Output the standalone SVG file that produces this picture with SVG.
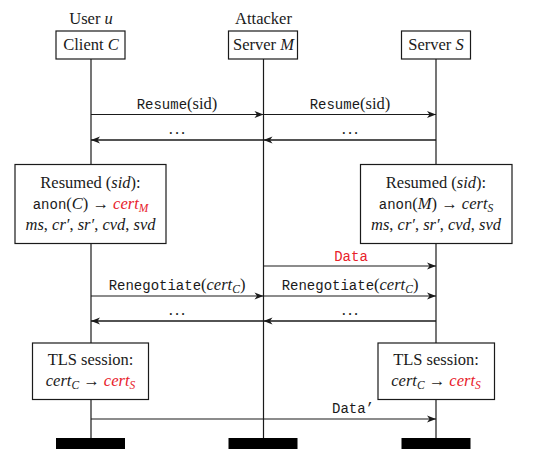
<svg xmlns="http://www.w3.org/2000/svg" width="535" height="472" viewBox="0 0 535 472">
<style>
  .t { font-family: "Liberation Serif", "Times New Roman", serif; font-size: 16.5px; fill: #1a1a1a; }
  .tt { font-family: "Liberation Mono", "Courier New", monospace; font-size: 14px; }
  .it { font-style: italic; }
  .sub { font-size: 11.5px; font-style: italic; }
  .red { fill: #e8212b; }
  .box { fill: #ffffff; stroke: #1a1a1a; stroke-width: 1.2; }
  .life { stroke: #1a1a1a; stroke-width: 1.2; fill: none; }
  .msg { stroke: #1a1a1a; stroke-width: 1.2; fill: none; marker-end: url(#ah); }
  .ret { stroke: #1a1a1a; stroke-width: 1.7; fill: none; marker-end: url(#ah); }
  .bar { fill: #000000; }
  .dots { letter-spacing: 2px; }
</style>
<defs>
  <marker id="ah" viewBox="-10 -5 11 10" refX="0" refY="0" markerWidth="11" markerHeight="10" markerUnits="userSpaceOnUse" orient="auto">
    <path d="M0,0 L-9,-3.6 L-6.5,0 L-9,3.6 Z" fill="#1a1a1a"/>
  </marker>
</defs>
<rect width="535" height="472" fill="#ffffff"/>

<g id="lifelines">
  <line class="life" x1="91" y1="59" x2="91" y2="439"/>
  <line class="life" x1="263.5" y1="59" x2="263.5" y2="439"/>
  <line class="life" x1="436" y1="59" x2="436" y2="439"/>
</g>

<g id="client">
  <text class="t" x="91" y="24" text-anchor="middle">User <tspan class="it">u</tspan></text>
  <rect class="box" x="56" y="31" width="69" height="28"/>
  <text class="t" x="91" y="50" text-anchor="middle">Client <tspan class="it">C</tspan></text>
  <rect class="bar" x="56" y="438" width="69" height="11"/>
</g>

<g id="attacker">
  <text class="t" x="263.5" y="24" text-anchor="middle">Attacker</text>
  <rect class="box" x="228.5" y="31" width="69" height="28"/>
  <text class="t" x="263.5" y="50" text-anchor="middle">Server <tspan class="it">M</tspan></text>
  <rect class="bar" x="228.5" y="438" width="69" height="11"/>
</g>

<g id="server">
  <rect class="box" x="401.5" y="31" width="69" height="28"/>
  <text class="t" x="436" y="50" text-anchor="middle">Server <tspan class="it">S</tspan></text>
  <rect class="bar" x="401.5" y="438" width="69" height="11"/>
</g>

<g id="connectors">
  <line class="msg" x1="91" y1="114.5" x2="263.5" y2="114.5"/>
  <line class="msg" x1="263.5" y1="114.5" x2="436" y2="114.5"/>
  <line class="ret" x1="436" y1="140" x2="263.5" y2="140"/>
  <line class="ret" x1="263.5" y1="140" x2="91" y2="140"/>
  <line class="msg" x1="263.5" y1="266" x2="436" y2="266"/>
  <line class="msg" x1="91" y1="296" x2="263.5" y2="296"/>
  <line class="msg" x1="263.5" y1="296" x2="436" y2="296"/>
  <line class="ret" x1="436" y1="321" x2="263.5" y2="321"/>
  <line class="ret" x1="263.5" y1="321" x2="91" y2="321"/>
  <line class="msg" x1="91" y1="419" x2="436" y2="419"/>
</g>

<g id="labels">
  <text class="t" x="177" y="109" text-anchor="middle"><tspan class="tt">Resume</tspan>(sid)</text>
  <text class="t" x="350" y="109" text-anchor="middle"><tspan class="tt">Resume</tspan>(sid)</text>
  <text class="t dots" x="178" y="134" text-anchor="middle">...</text>
  <text class="t dots" x="351" y="134" text-anchor="middle">...</text>
  <text class="t tt red" x="351" y="261" text-anchor="middle">Data</text>
  <text class="t" x="177" y="290" text-anchor="middle"><tspan class="tt">Renegotiate</tspan>(<tspan class="it">cert</tspan><tspan class="sub" dy="3">C</tspan><tspan dy="-3">)</tspan></text>
  <text class="t" x="350" y="290" text-anchor="middle"><tspan class="tt">Renegotiate</tspan>(<tspan class="it">cert</tspan><tspan class="sub" dy="3">C</tspan><tspan dy="-3">)</tspan></text>
  <text class="t dots" x="178" y="315" text-anchor="middle">...</text>
  <text class="t dots" x="351" y="315" text-anchor="middle">...</text>
  <text class="t tt" x="353" y="413" text-anchor="middle">Data’</text>
</g>

<g id="resumed-client">
  <rect class="box" x="15" y="164.5" width="151" height="79"/>
  <text class="t" x="90.5" y="188" text-anchor="middle">Resumed (<tspan class="it">sid</tspan>):</text>
  <text class="t" x="90.5" y="209" text-anchor="middle"><tspan class="tt">anon</tspan>(<tspan class="it">C</tspan>) → <tspan class="it red">cert</tspan><tspan class="sub red" dy="3">M</tspan></text>
  <text class="t" x="90.5" y="230" text-anchor="middle"><tspan class="it">ms</tspan>, <tspan class="it">cr′</tspan>, <tspan class="it">sr′</tspan>, <tspan class="it">cvd</tspan>, <tspan class="it">svd</tspan></text>
</g>

<g id="resumed-server">
  <rect class="box" x="360.5" y="164.5" width="151.5" height="79"/>
  <text class="t" x="436" y="188" text-anchor="middle">Resumed (<tspan class="it">sid</tspan>):</text>
  <text class="t" x="436" y="209" text-anchor="middle"><tspan class="tt">anon</tspan>(<tspan class="it">M</tspan>) → <tspan class="it">cert</tspan><tspan class="sub" dy="3">S</tspan></text>
  <text class="t" x="436" y="230" text-anchor="middle"><tspan class="it">ms</tspan>, <tspan class="it">cr′</tspan>, <tspan class="it">sr′</tspan>, <tspan class="it">cvd</tspan>, <tspan class="it">svd</tspan></text>
</g>

<g id="tls-client">
  <rect class="box" x="32.5" y="343" width="116" height="56.5"/>
  <text class="t" x="90.5" y="365" text-anchor="middle">TLS session:</text>
  <text class="t" x="90.5" y="386" text-anchor="middle"><tspan class="it">cert</tspan><tspan class="sub" dy="3">C</tspan><tspan dy="-3"> → </tspan><tspan class="it red">cert</tspan><tspan class="sub red" dy="3">S</tspan></text>
</g>

<g id="tls-server">
  <rect class="box" x="378" y="343" width="116.5" height="56.5"/>
  <text class="t" x="436" y="365" text-anchor="middle">TLS session:</text>
  <text class="t" x="436" y="386" text-anchor="middle"><tspan class="it">cert</tspan><tspan class="sub" dy="3">C</tspan><tspan dy="-3"> → </tspan><tspan class="it red">cert</tspan><tspan class="sub red" dy="3">S</tspan></text>
</g>
</svg>
